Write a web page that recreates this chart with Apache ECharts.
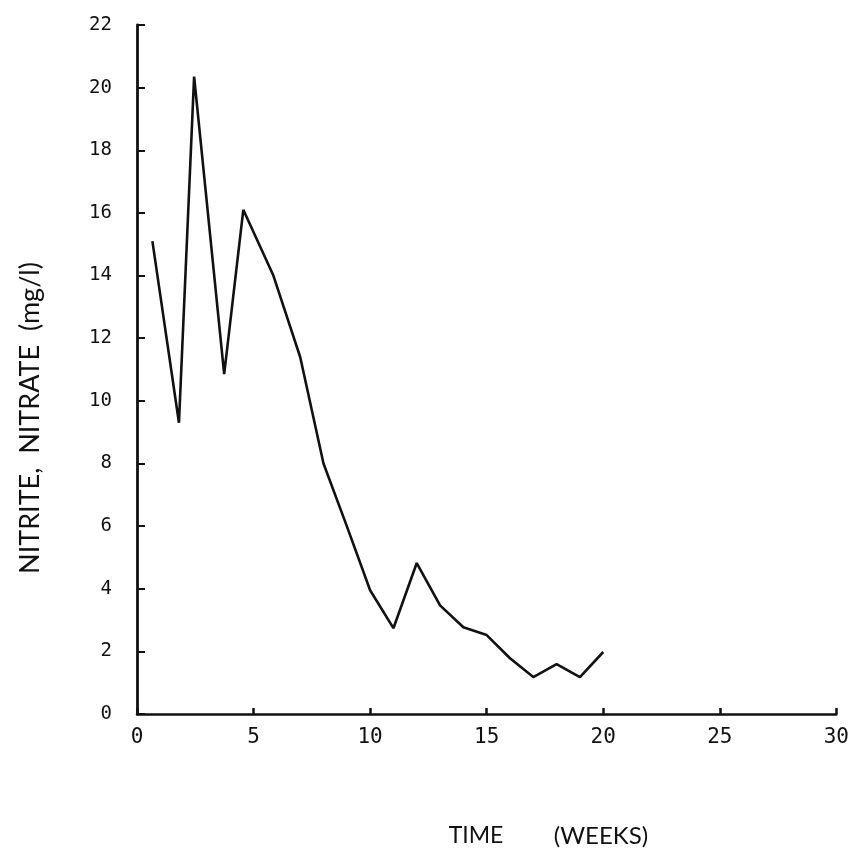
<!DOCTYPE html>
<html>
<head>
<meta charset="utf-8">
<script src="https://cdn.jsdelivr.net/npm/echarts@6/dist/echarts.min.js"></script>
<style>
html,body{margin:0;padding:0;background:#fff;}
#chart{width:852px;height:861px;}
</style>
</head>
<body>
<div id="chart"></div>
<script>
// Data
var weeks = [0.66, 1.8, 2.45, 3.74, 4.56, 5.85, 7, 8, 9, 10, 11, 12, 13, 14, 15, 16, 17, 18, 19, 20];
var conc  = [15.1, 9.3, 20.35, 10.85, 16.1, 14.0, 11.4, 8.0, 6.0, 3.95, 2.74, 4.82, 3.47, 2.77, 2.52, 1.78, 1.18, 1.59, 1.18, 1.98];
var xTicks = [0, 5, 10, 15, 20, 25, 30];
var yTicks = [0, 2, 4, 6, 8, 10, 12, 14, 16, 18, 20, 22];
var yTitle = 'NITRITE,  NITRATE  (mg/l)';
var xTitleA = 'TIME';
var xTitleB = '(WEEKS)';

var pts = weeks.map(function (w, i) { return [w, conc[i]]; });

var chart = echarts.init(document.getElementById('chart'), null, {renderer: 'canvas'});
var mono = '"DejaVu Sans Mono", monospace';
var sans = 'Lato, "Open Sans", sans-serif';
chart.setOption({
  backgroundColor: '#ffffff',
  animation: false,
  grid: {left: 137, right: 15, top: 25, bottom: 147, containLabel: false},
  xAxis: {
    type: 'value',
    min: xTicks[0], max: xTicks[xTicks.length - 1], interval: 5,
    axisLine: {show: true, lineStyle: {color: '#111', width: 2.5}},
    axisTick: {show: true, inside: true, length: 6, lineStyle: {color: '#111', width: 2.5}},
    axisLabel: {color: '#111', fontFamily: mono, fontSize: 21, margin: 13},
    splitLine: {show: false}
  },
  yAxis: {
    type: 'value',
    min: yTicks[0], max: yTicks[yTicks.length - 1], interval: 2,
    axisLine: {show: true, lineStyle: {color: '#111', width: 2.8}},
    axisTick: {show: true, inside: true, length: 8, lineStyle: {color: '#111', width: 2}},
    axisLabel: {color: '#111', fontFamily: mono, fontSize: 19, margin: 25},
    splitLine: {show: false}
  },
  series: [{
    type: 'line',
    data: pts,
    showSymbol: false,
    symbol: 'none',
    lineStyle: {color: '#111', width: 2.6},
    z: 3
  }],
  graphic: [
    {type: 'text', x: 30, y: 418, rotation: Math.PI / 2,
     style: {text: yTitle, fontFamily: sans, fontWeight: 'normal', fontSize: 27, fill: '#111',
             textAlign: 'center', textVerticalAlign: 'middle'}},
    {type: 'text', x: 476, y: 836,
     style: {text: xTitleA, fontFamily: sans, fontWeight: 'normal', fontSize: 23, fill: '#111',
             textAlign: 'center', textVerticalAlign: 'middle'}},
    {type: 'text', x: 601, y: 836,
     style: {text: xTitleB, fontFamily: sans, fontWeight: 'normal', fontSize: 24, fill: '#111',
             textAlign: 'center', textVerticalAlign: 'middle'}}
  ]
});
</script>
</body>
</html>
